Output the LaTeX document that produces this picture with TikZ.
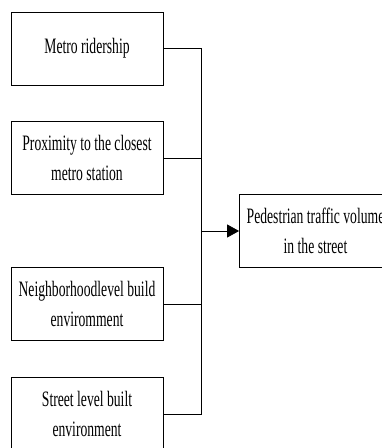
\documentclass[tikz,border=0pt]{standalone}
\usepackage{fontspec}
\usepackage{tikz}
\usetikzlibrary{arrows.meta, positioning}
\newfontfamily\narrowserif[FakeStretch=0.62]{Liberation Serif}
\def\boxW{152pt}
\def\boxH{73pt}
\begin{document}
\begin{tikzpicture}[
    x=1pt, y=-1pt,
    line width=0.8pt,
    >={Triangle[length=12pt,width=13pt]},
    factor/.style={draw, rectangle, minimum width=\boxW, minimum height=\boxH,
        align=center, inner sep=0pt, font=\narrowserif\fontsize{22}{30}\selectfont}
]
\useasboundingbox (0,0) rectangle (382,448);
\clip (0,0) rectangle (382,448);
\node[factor] (ride) at (87,48.5) {Metro ridership};
\node[factor] (prox) at (87,158) {Proximity to the closest\\metro station};
\node[factor] (nbhd) at (87,304) {Neighborhoodlevel build\\enviromment};
\node[factor] (street) at (87,414) {Street level built\\environment};
\node[factor] (ped) at (315.5,231) {Pedestrian traffic volume\\in the street};
\coordinate (bus) at (201,0);
\draw (ride.east) -- (ride.east -| bus) -- (street.east -| bus) -- (street.east);
\draw (prox.east) -- (prox.east -| bus);
\draw (nbhd.east) -- (nbhd.east -| bus);
\draw[->] (ped.west -| bus) -- (ped.west);
\end{tikzpicture}
\end{document}
